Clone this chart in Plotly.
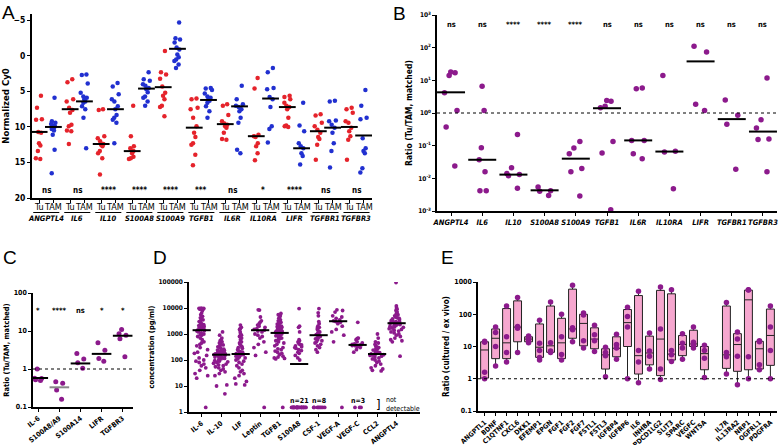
import plotly.graph_objects as go
import numpy as np

W, H = 778, 445
FONT = "Liberation Sans Narrow, DejaVu Sans Condensed, Arial, Liberation Sans, sans-serif"
RED = '#e5232b'
BLUE = '#2130d0'
PURPLE = '#8c1a8c'
PINK = '#f6a7cf'

def xd(a, b):
    return [a / W, b / W]

def yd(top, bottom):
    return [1 - bottom / H, 1 - top / H]

def py(px):
    return 1 - px / H

# ---------------- Panel A data ----------------
genes_A = ['ANGPTL4', 'IL6', 'IL10', 'S100A8', 'S100A9', 'TGFB1', 'IL6R', 'IL10RA', 'LIFR', 'TGFBR1', 'TGFBR3']
tu_A = [
    [5.6, 7.3, 8.9, 9.0, 10.7, 10.8, 12.3, 12.6, 13.4, 14.4, 14.5],
    [3.3, 3.7, 6.1, 6.4, 7.3, 7.6, 8.0, 9.7, 9.9, 10.5, 10.6, 12.4],
    [7.5, 7.6, 11.3, 11.6, 12.0, 12.4, 12.5, 12.7, 13.4, 13.7, 14.4, 16.7],
    [7.0, 11.3, 12.7, 13.0, 13.3, 13.4, 13.7, 14.2, 14.4, 14.5],
    [-0.7, 2.3, 2.6, 3.2, 4.3, 5.2, 5.6, 6.1, 7.0, 7.2, 8.5],
    [6.0, 6.1, 7.3, 7.5, 8.7, 9.9, 10.8, 11.4, 12.3, 12.5, 13.9, 15.4],
    [6.8, 7.0, 8.3, 9.2, 9.5, 9.7, 9.9, 10.1, 10.8, 11.7, 11.8],
    [3.1, 4.6, 11.1, 11.3, 11.4, 12.3, 12.7, 13.7, 14.7],
    [5.6, 5.8, 6.1, 6.6, 7.0, 7.2, 7.5, 8.7, 9.8, 9.9, 10.0],
    [8.2, 8.4, 9.4, 9.9, 10.4, 10.8, 11.4, 11.7, 12.5, 14.6],
    [7.3, 7.5, 8.0, 9.2, 9.4, 10.1, 10.6, 11.3, 11.8, 14.6],
]
tam_A = [
    [5.9, 9.2, 9.4, 9.6, 9.8, 9.9, 10.0, 10.0, 10.1, 10.3, 10.5, 11.1, 13.2, 16.5],
    [2.6, 2.7, 3.9, 5.2, 5.7, 5.9, 6.1, 6.4, 6.6, 7.1, 7.5, 8.7, 13.0],
    [3.8, 4.3, 5.4, 6.1, 6.4, 7.1, 7.5, 8.3, 8.7, 9.0, 9.4, 12.3],
    [2.3, 3.3, 3.5, 4.0, 4.2, 4.5, 4.7, 5.1, 5.7, 5.9, 6.4, 7.0],
    [-4.7, -2.5, -2.3, -1.9, -1.2, -0.9, -0.2, 0.2, 0.5, 0.7, 1.2, 1.7],
    [4.5, 4.6, 4.8, 5.3, 5.7, 5.9, 6.1, 6.3, 6.6, 7.1, 7.8, 8.7],
    [4.2, 6.1, 6.8, 7.0, 7.2, 7.5, 7.8, 8.7, 9.4, 13.2, 13.7],
    [1.7, 2.3, 4.5, 4.7, 5.8, 6.1, 7.2, 9.9, 10.3, 12.2],
    [6.6, 9.8, 10.6, 12.3, 12.7, 13.0, 13.7, 14.1, 15.3],
    [6.3, 6.4, 9.1, 9.2, 9.7, 10.1, 10.8, 12.3, 13.4, 15.7],
    [4.8, 7.0, 8.7, 8.9, 11.6, 13.0, 13.4, 13.7, 15.8, 16.4],
]
tu_med_A = [10.7, 7.5, 12.4, 13.4, 4.4, 10.1, 9.6, 11.3, 7.2, 10.6, 10.0]
tam_med_A = [10.0, 6.4, 7.5, 4.6, -1.0, 6.2, 7.1, 6.0, 13.0, 10.1, 11.2]
sig_A = ['ns', 'ns', '****', '****', '****', '***', 'ns', '*', '****', 'ns', 'ns']
groups_A = ['Tu', 'TAM']

# ---------------- Panel B data ----------------
genes_B = genes_A
vals_B = [
    [18, 14, 17, 4.2, 1.2, 0.37, 0.024],
    [6.6, 1.2, 0.087, 0.037, 0.016, 0.0042, 0.0042],
    [0.22, 0.021, 0.013, 0.012, 0.014, 0.005],
    [0.0054, 0.0042, 0.0040, 0.0030],
    [0.135, 0.085, 0.057, 0.02, 0.016, 0.0029],
    [2.4, 2.3, 1.6, 1.45, 0.135, 0.06, 0.0011],
    [5.8, 5.5, 0.145, 0.145, 0.057, 0.04],
    [14, 0.067, 0.064, 0.0048],
    [110, 74, 1.85, 1.2],
    [2.5, 0.85, 0.45, 0.019],
    [11.8, 0.62, 0.35, 0.16, 0.155, 0.016],
]
med_B = [4.3, 0.037, 0.013, 0.0043, 0.04, 1.4, 0.145, 0.066, 38, 0.65, 0.27]
sig_B = ['ns', 'ns', '****', '****', '****', 'ns', 'ns', 'ns', 'ns', 'ns', 'ns']

# ---------------- Panel C data ----------------
genes_C = ['IL-6', 'S100A8/A9', 'S100A14', 'LIFR', 'TGFBR3']
vals_C = [
    [1.0, 0.52, 0.5, 0.57, 0.56],
    [0.46, 0.42, 0.28, 0.16],
    [2.55, 1.84, 1.45, 1.04],
    [4.9, 3.1, 1.9, 1.6],
    [11, 8.5, 7.7, 6.3, 2.1],
]
med_C = [0.58, 0.33, 1.4, 2.5, 7.5]
sig_C = ['*', '****', 'ns', '*', '*']

# ---------------- Panel D data ----------------
genes_D = ['IL-6', 'IL-10', 'LIF', 'Leptin', 'TGFB1', 'S100A8', 'CSF-1', 'VEGF-A', 'VEGF-C', 'CCL2', 'ANGPTL4']
vals_D = [
    [9800, 9700, 9600, 9500, 9400, 9300, 9000, 8000, 6500, 5500, 4800, 4200, 3800, 3500, 3200, 3000, 2700,
     2500, 2300, 2100, 2000, 1900, 1800, 1700, 1600, 1500, 1450, 1400, 1350, 1300, 1200, 1100, 1000, 950,
     900, 800, 700, 600, 500, 450, 400, 350, 300, 250, 200, 180, 150, 120, 100, 90, 80, 70, 60, 50, 40, 30, 25, 20],
    [1200, 900, 700, 600, 550, 500, 450, 400, 380, 350, 320, 300, 280, 260, 240, 230, 220, 210, 200, 190, 180,
     175, 170, 165, 160, 155, 150, 145, 140, 135, 130, 125, 120, 115, 110, 100, 95, 90, 85, 80, 75, 70, 65,
     60, 55, 50, 45, 40, 35, 30, 25, 11, 10, 5],
    [2200, 1800, 1600, 1500, 1200, 1000, 900, 800, 700, 600, 500, 450, 400, 350, 320, 300, 280, 250, 230, 210,
     200, 190, 180, 175, 170, 165, 160, 155, 150, 140, 130, 120, 110, 100, 90, 80, 70, 60, 50, 40, 35, 30,
     25, 20, 15, 12, 11],
    [8500, 8300, 4500, 3200, 2800, 2500, 2200, 2000, 1800, 1600, 1500, 1400, 1300, 1200, 1000, 900, 800, 700,
     500, 400, 300, 200, 150],
    [6200, 5500, 5000, 4500, 4000, 3500, 3200, 3000, 2800, 2600, 2400, 2200, 2100, 2000, 1900, 1800, 1700,
     1600, 1500, 1400, 1350, 1300, 1250, 1200, 1150, 1100, 1050, 1000, 950, 900, 850, 800, 750, 700, 650,
     600, 550, 500, 450, 400, 350, 300, 270, 250, 220, 200, 180, 160, 140, 130, 120, 115, 110],
    [9500, 2000, 1800, 1200, 600, 550, 500, 450, 400, 380, 350, 320, 300, 280, 250, 230, 200, 180, 150, 120, 100],
    [9500, 6500, 5000, 3000, 2500, 2000, 1800, 1700, 1500, 1300, 1200, 1100, 1000, 950, 900, 850, 800, 750,
     700, 650, 600, 550, 500, 450, 400, 350, 300, 250, 200],
    [8500, 8000, 7000, 5000, 4500, 4000, 3500, 3200, 3000, 2800, 2500, 2000, 1500, 1200, 900, 500],
    [2800, 700, 680, 650, 600, 500, 450, 420, 400, 390, 380, 370, 360, 350, 340, 320, 300, 250, 200],
    [1000, 700, 500, 450, 400, 350, 320, 300, 280, 260, 240, 220, 200, 190, 180, 175, 170, 165, 160, 155,
     150, 140, 130, 120, 110, 100, 90, 80, 70, 60, 50, 45, 40, 38],
    [95000, 12000, 10000, 9000, 8000, 7000, 6000, 5500, 5000, 4500, 4200, 4000, 3800, 3500, 3300, 3100, 3000,
     2900, 2800, 2700, 2600, 2500, 2400, 2300, 2200, 2100, 2000, 1900, 1800, 1700, 1600, 1500, 1400, 1300,
     1200, 1100, 1000, 900, 800, 700, 600, 550, 500, 140],
]
nd_D = [1, 0, 0, 1, 1, 21, 8, 1, 3, 0, 0]   # not detectable counts
med_D = [1400, 160, 170, 1400, 1100, 70, 900, 3100, 380, 170, 2600]
nd_label_D = {5: 'n=21', 6: 'n=8', 8: 'n=3'}
ND_LEVEL = 1.5

# ---------------- Panel E data ----------------
genes_E = ['ANGPTL1', 'BDNF', 'C1QTNF1', 'CXCL6', 'DKK1', 'EFEMP1', 'EPGN', 'FGF1', 'FGF2', 'FGF7', 'FSTL1',
           'FSTL3', 'IGFBP4', 'IGFBP6', 'IL6', 'INHBA', 'PDCD1LG2', 'SLIT3', 'SPARC', 'VEGFC', 'WNT5A',
           'IL7R', 'IL13RA2', 'NRP1', 'OGFRL1', 'PDGFRA']
slot_E = list(range(21)) + [22, 23, 24, 25, 26]
lo_E = [1.0, 2.5, 3.3, 6.5, 13, 3.8, 6.5, 3.8, 14, 9, 7, 1.15, 4, 1.0, 0.75, 2.0, 0.95, 3.4, 4.0, 9, 1.1,
        1.4, 0.65, 1.0, 1.9, 1.0]
q1_E = [1.05, 4.2, 4.2, 14, 14, 4.6, 6.6, 4.2, 18, 10.5, 8.5, 2.0, 4.8, 10, 1.4, 2.7, 1.25, 3.8, 5.2, 10, 1.9,
        2.1, 1.7, 1.9, 2.0, 2.6]
med_E = [7.8, 18, 13, 40, 17, 9.5, 10.5, 13, 35, 52, 17, 5.5, 8.8, 55, 5.2, 6.3, 17, 5.8, 11.5, 12, 6,
         5.5, 11.5, 280, 8.5, 22]
q3_E = [14, 35, 150, 260, 20, 50, 180, 75, 600, 100, 38, 8.5, 20, 140, 380, 21, 550, 430, 22, 32, 10,
        180, 25, 560, 14.5, 145]
hi_E = [14.5, 40, 180, 330, 21, 65, 240, 100, 800, 110, 46, 9.5, 24, 165, 520, 26, 700, 580, 25, 40, 11,
        230, 28, 580, 15, 180]
pts_E = [
    [14.5, 13.5, 1.6, 1.0], [40, 27, 10, 2.5], [180, 20, 6.5, 3.3], [330, 42, 37, 6.5], [21, 19, 16, 13],
    [65, 12.5, 7.5, 4.6, 3.8], [240, 13, 7.2, 6.5], [100, 20, 5.6, 3.8], [800, 38, 33, 14], [110, 95, 15, 9],
    [46, 23, 15, 7], [9.5, 6.5, 5.2, 1.15], [24, 11.5, 9, 4], [165, 85, 40, 1.0], [520, 7.5, 3.3, 0.75],
    [26, 7.3, 5, 2.0], [700, 35, 2.0, 0.95], [580, 7.5, 5.5, 3.4], [25, 12.5, 9, 4.0], [40, 13.5, 11, 9],
    [11, 7.5, 4.3, 1.1], [230, 6.5, 4.8, 1.4], [28, 17, 5, 0.65], [580, 560, 4.8, 1.0], [15, 14, 2.7, 1.9],
    [180, 40, 7.5, 1.0],
]

fig = go.Figure()

def jitter_trace(xpos, yvals, color, size, width, jit, xa, ya):
    return go.Box(x=[xpos] * len(yvals), y=yvals, boxpoints='all', jitter=jit, pointpos=0,
                  width=width, fillcolor='rgba(0,0,0,0)', line=dict(width=0, color='rgba(0,0,0,0)'),
                  marker=dict(color=color, size=size, line=dict(width=0)),
                  xaxis=xa, yaxis=ya, showlegend=False, hoverinfo='y')

def median_trace(xs, ys, size, xa, ya, color='black', width=2):
    return go.Scatter(x=xs, y=ys, mode='markers',
                      marker=dict(symbol='line-ew', size=size, color=color, line=dict(width=width, color=color)),
                      xaxis=xa, yaxis=ya, showlegend=False, hoverinfo='skip')

annotations = []
shapes = []

def ann(text, x, y, xref, yref, size=7, bold=True, italic=False, xanchor='center', yanchor='middle', **kw):
    annotations.append(dict(text=text, x=x, y=y, xref=xref, yref=yref, showarrow=False,
                            xanchor=xanchor, yanchor=yanchor,
                            font=dict(family=FONT, size=size, color='black',
                                      weight='bold' if bold else 'normal',
                                      style='italic' if italic else 'normal'), **kw))

# ---------------- Panel A ----------------
OFF = 0.23
for i, g in enumerate(genes_A):
    fig.add_trace(jitter_trace(i - OFF, tu_A[i], RED, 4.5, 0.32, 0.9, 'x', 'y'))
    fig.add_trace(jitter_trace(i + OFF, tam_A[i], BLUE, 4.5, 0.32, 0.9, 'x', 'y'))
fig.add_trace(median_trace([i - OFF for i in range(len(genes_A))], tu_med_A, 12, 'x', 'y'))
fig.add_trace(median_trace([i + OFF for i in range(len(genes_A))], tam_med_A, 12, 'x', 'y'))
for i, g in enumerate(genes_A):
    ann(groups_A[0], i - OFF, py(207), 'x', 'paper', size=9, bold=False)
    ann(groups_A[1], i + OFF, py(207), 'x', 'paper', size=9, bold=False)
    ann(g, i, py(218), 'x', 'paper', size=7.5, italic=True)
    ann(sig_A[i], i, 19, 'x', 'y', size=8)
    shapes.append(dict(type='line', xref='x', yref='paper', x0=i - 0.42, x1=i + 0.42, y0=py(212.5), y1=py(212.5),
                       line=dict(color='black', width=1)))

# ---------------- Panel B ----------------
for i, g in enumerate(genes_B):
    fig.add_trace(jitter_trace(i, vals_B[i], PURPLE, 5.5, 0.55, 0.9, 'x2', 'y2'))
fig.add_trace(median_trace(list(range(len(genes_B))), med_B, 20, 'x2', 'y2'))
fig.add_trace(go.Scatter(x=[-0.45, 10.45], y=[1, 1], mode='lines', line=dict(color='black', width=1, dash='dot'),
                         xaxis='x2', yaxis='y2', showlegend=False, hoverinfo='skip'))
for i, s in enumerate(sig_B):
    ann(s, i, np.log10(500), 'x2', 'y2', size=7.5)

# ---------------- Panel C ----------------
for i, g in enumerate(genes_C):
    fig.add_trace(jitter_trace(i, vals_C[i], PURPLE, 5, 0.45, 0.9, 'x3', 'y3'))
fig.add_trace(median_trace(list(range(len(genes_C))), med_C[:1] + [None] + med_C[2:], 14, 'x3', 'y3'))
fig.add_trace(median_trace([1], [med_C[1]], 14, 'x3', 'y3', color='#888888'))
fig.add_trace(go.Scatter(x=[-0.25, 4.49], y=[1, 1], mode='lines', line=dict(color='black', width=1, dash='dot'),
                         xaxis='x3', yaxis='y3', showlegend=False, hoverinfo='skip'))
for i, s in enumerate(sig_C):
    ann(s, i, np.log10(35), 'x3', 'y3', size=7.5)

# ---------------- Panel D ----------------
for i, g in enumerate(genes_D):
    ys = vals_D[i] + [ND_LEVEL] * nd_D[i]
    fig.add_trace(jitter_trace(i, ys, PURPLE, 3.8, 0.8, 1.0, 'x4', 'y4'))
fig.add_trace(median_trace(list(range(len(genes_D))), med_D, 13, 'x4', 'y4'))
for i, t in nd_label_D.items():
    ann(t, i, np.log10(2.6), 'x4', 'y4', size=7)
ann(']', 9.05, np.log10(1.9), 'x4', 'y4', size=13, bold=False)
ann('not<br>detectable', 9.35, np.log10(1.9), 'x4', 'y4', size=7, bold=False, xanchor='left', align='left')

# ---------------- Panel E ----------------
fig.add_trace(go.Box(x=slot_E, q1=q1_E, median=med_E, q3=q3_E, lowerfence=lo_E, upperfence=hi_E,
                     fillcolor=PINK, line=dict(color='#222222', width=1), whiskerwidth=0, width=0.72,
                     boxpoints=False, xaxis='x5', yaxis='y5', showlegend=False))
px_E, py_E = [], []
for s, pts in zip(slot_E, pts_E):
    px_E += [s] * len(pts)
    py_E += pts
fig.add_trace(go.Scatter(x=px_E, y=py_E, mode='markers', marker=dict(color=PURPLE, size=5.5),
                         xaxis='x5', yaxis='y5', showlegend=False))
fig.add_trace(go.Scatter(x=[-0.6, 26.6], y=[1, 1], mode='lines', line=dict(color='black', width=1, dash='dot'),
                         xaxis='x5', yaxis='y5', showlegend=False, hoverinfo='skip'))

# ---------------- Panel letters ----------------
for letter, x, y in [('A', 0, 0), ('B', 391, 1), ('C', 1, 245), ('D', 151, 245), ('E', 439, 245)]:
    annotations.append(dict(text=letter, x=x / W, y=py(y), xref='paper', yref='paper', showarrow=False,
                            xanchor='left', yanchor='top',
                            font=dict(family='Arial, Liberation Sans, sans-serif', size=19, color='black')))

# ---------------- Axes ----------------
TF = dict(family=FONT, size=7.5, color='black', weight='bold')
TTF = dict(family=FONT, size=8.5, color='black', weight='bold')

def ax(**kw):
    d = dict(showline=True, linecolor='black', linewidth=1.5, ticks='outside', ticklen=3, tickwidth=1.2,
             tickcolor='black', showgrid=False, zeroline=False, tickfont=TF, automargin=False,
             ticklabeloverflow='allow')
    d.update(kw)
    return d

def logticks(lo, hi, sup=False):
    vals = [10.0 ** k for k in range(lo, hi + 1)]
    if sup:
        txt = ['10<sup>%d</sup>' % k for k in range(lo, hi + 1)]
    else:
        txt = [('%g' % v) for v in vals]
    return vals, txt

tvB, ttB = logticks(-3, 3, sup=True)
tvC, ttC = logticks(-1, 2)
tvD, ttD = logticks(0, 5)
tvE, ttE = logticks(-1, 3)

tick_A = []
for i in range(len(genes_A)):
    tick_A += [i - OFF, i + OFF]

fig.update_layout(
    width=W, height=H, margin=dict(l=0, r=0, t=0, b=0, autoexpand=False),
    paper_bgcolor='white', plot_bgcolor='white', showlegend=False, boxmode='overlay',
    font=dict(family=FONT, color='black'),
    xaxis=ax(domain=xd(32, 372), range=[-0.46, 10.5], tickvals=tick_A, showticklabels=False, anchor='y',
             linewidth=2),
    yaxis=ax(domain=yd(14, 198), range=[20, -5.9], tickvals=[-5, 0, 5, 10, 15, 20], anchor='x', linewidth=2,
             tickfont=dict(family=FONT, size=8.5, color='black', weight='bold'),
             title=dict(text='Normalized Cy0', font=dict(family=FONT, size=9.5, color='black', weight='bold'),
                        standoff=4)),
    xaxis2=ax(domain=xd(437, 777), range=[-0.45, 10.45], tickvals=list(range(len(genes_B))), ticktext=genes_B,
              anchor='y2', tickangle=0,
              tickfont=dict(family=FONT, size=7.5, color='black', weight='bold', style='italic')),
    yaxis2=ax(domain=yd(15, 211), type='log', range=[-3, 3], tickvals=tvB, ticktext=ttB, anchor='x2',
              tickfont=dict(family=FONT, size=6.5, color='black', weight='bold'),
              title=dict(text='Ratio (Tu/TAM, matched)', font=TTF, standoff=4)),
    xaxis3=ax(domain=xd(33, 133), range=[-0.25, 4.49], tickvals=list(range(len(genes_C))), ticktext=genes_C,
              tickangle=-38, anchor='y3', tickfont=dict(family=FONT, size=7, color='black', weight='bold')),
    yaxis3=ax(domain=yd(293, 407), type='log', range=[-1, 2], tickvals=tvC, ticktext=ttC, anchor='x3',
              tickfont=dict(family=FONT, size=7, color='black', weight='bold'),
              title=dict(text='Ratio (Tu/TAM, matched)', font=dict(family=FONT, size=7.5, color='black',
                                                                    weight='bold'), standoff=3)),
    xaxis4=ax(domain=xd(189, 420), range=[-0.65, 11.2], tickvals=list(range(len(genes_D))), ticktext=genes_D,
              tickangle=-38, anchor='y4', tickfont=dict(family=FONT, size=7, color='black', weight='bold')),
    yaxis4=ax(domain=yd(282, 412), type='log', range=[0, 5], tickvals=tvD, ticktext=ttD, anchor='x4',
              tickfont=dict(family=FONT, size=6.5, color='black', weight='bold'),
              title=dict(text='concentration (pg/ml)', font=dict(family=FONT, size=7.5, color='black',
                                                                  weight='bold'), standoff=3)),
    xaxis5=ax(domain=xd(478, 777), range=[-0.6, 26.6], tickvals=slot_E, ticktext=genes_E, tickangle=-42,
              anchor='y5', tickfont=dict(family=FONT, size=6.8, color='black', weight='bold')),
    yaxis5=ax(domain=yd(282, 411), type='log', range=[-1, 3], tickvals=tvE, ticktext=ttE, anchor='x5',
              tickfont=dict(family=FONT, size=7, color='black', weight='bold'),
              title=dict(text='Ratio (cultured / ex vivo)', font=dict(family=FONT, size=8, color='black',
                                                                      weight='bold'), standoff=4)),
    annotations=annotations, shapes=shapes,
)

fig.write_html("out.html", config={'displayModeBar': False},
               post_script="document.body.style.margin='0';")
